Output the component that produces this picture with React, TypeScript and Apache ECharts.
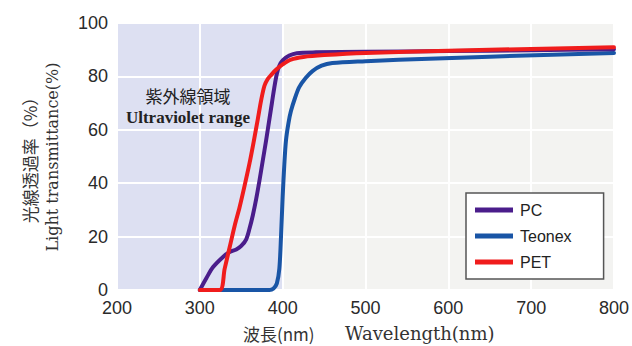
import React, { useEffect, useRef } from "react";
import * as echarts from "echarts";

const xTicks = [200, 300, 400, 500, 600, 700, 800];
const yTicks = [0, 20, 40, 60, 80, 100];
const seriesNames = ["PC", "Teonex", "PET"];
const uvRange = [200, 400];

const pcData: [number, number][] = [
  [300, 0], [308, 4.5], [316, 8.6], [328, 12.4], [336, 14.2], [344, 15.2], [350, 16.5],
  [356, 19], [360, 23], [364, 28], [368, 34], [372, 41], [376, 48.5], [380, 56],
  [384, 64], [387, 70], [390, 76], [393, 81], [396, 84], [400, 86], [408, 87.8],
  [417, 88.7], [440, 89], [500, 89.2], [600, 89.5], [700, 89.8], [800, 90.2],
];
const teonexData: [number, number][] = [
  [300, 0], [384, 0], [389, 0.6], [393, 2.5], [396, 8], [398, 20], [400, 35],
  [402, 47], [404, 56], [407, 62.5], [410, 67], [415, 72], [420, 76], [428, 79.5],
  [436, 82], [447, 84], [460, 85], [500, 85.7], [540, 86.2], [650, 87.4], [800, 88.8],
];
const petData: [number, number][] = [
  [300, 0], [324, 0], [330, 8], [336, 16], [342, 24], [348, 31], [354, 39],
  [360, 47.5], [365, 55.5], [370, 64], [374, 71], [378, 76.5], [382, 79],
  [386, 80.5], [392, 82.5], [400, 84.5], [410, 86.3], [425, 87.3], [450, 88],
  [500, 88.8], [600, 89.6], [700, 90.3], [800, 90.9],
];

const colors = { PC: "#4a1d8b", Teonex: "#1955a6", PET: "#f01c1c" };

export default function App() {
  const ref = useRef<HTMLDivElement>(null);
  useEffect(() => {
    if (!ref.current) return;
    const chart = echarts.init(ref.current, undefined, { renderer: "svg" });
    const lineSeries = (name: string, data: [number, number][], z: number) => ({
      name,
      type: "line",
      data,
      smooth: 0.3,
      showSymbol: false,
      symbol: "none",
      z,
      lineStyle: { width: 4, color: (colors as any)[name], cap: "round", join: "round" },
      itemStyle: { color: (colors as any)[name] },
    });
    chart.setOption({
      animation: false,
      backgroundColor: "#ffffff",
      grid: {
        left: 117,
        right: 17,
        top: 23,
        bottom: 56,
        show: true,
        backgroundColor: "#f3f3f1",
        borderWidth: 0,
      },
      xAxis: {
        type: "value",
        min: xTicks[0],
        max: xTicks[xTicks.length - 1],
        interval: 100,
        z: 1.5,
        axisLine: { show: false },
        axisTick: { show: false },
        axisLabel: {
          fontFamily: "Liberation Sans",
          fontSize: 18,
          color: "#2a2a2a",
          margin: 9,
        },
        splitLine: { show: true, lineStyle: { color: "#ffffff", width: 2 } },
      },
      yAxis: {
        type: "value",
        min: yTicks[0],
        max: yTicks[yTicks.length - 1],
        interval: 20,
        z: 1.5,
        axisLine: { show: false },
        axisTick: { show: false },
        axisLabel: {
          fontFamily: "Liberation Sans",
          fontSize: 18,
          color: "#2a2a2a",
          margin: 9,
        },
        splitLine: { show: true, lineStyle: { color: "#ffffff", width: 2 } },
      },
      legend: {
        data: seriesNames,
        orient: "vertical",
        left: 466,
        top: 193,
        padding: [9, 32, 9, 9],
        itemGap: 10,
        itemWidth: 38,
        itemHeight: 5,
        icon: "rect",
        backgroundColor: "#ffffff",
        borderColor: "#555555",
        borderWidth: 1.5,
        borderRadius: 0,
        textStyle: { fontFamily: "Liberation Sans", fontSize: 16, color: "#222", padding: [0, 0, 0, 2] },
      },
      series: [
        {
          name: "uv",
          type: "line",
          data: [],
          z: 1,
          silent: true,
          markArea: {
            silent: true,
            itemStyle: { color: "#dde0f2" },
            data: [[{ xAxis: uvRange[0] }, { xAxis: uvRange[1] }]],
          },
        },
        lineSeries("Teonex", teonexData, 2),
        lineSeries("PC", pcData, 3),
        lineSeries("PET", petData, 4),
      ],
      graphic: [
        {
          type: "text",
          z: 10,
          x: 29,
          y: 156,
          rotation: Math.PI / 2,
          style: {
            text: "光線透過率（%）",
            font: '17px "Noto Sans CJK JP"',
            fill: "#333",
            align: "center",
            verticalAlign: "middle",
          },
        },
        {
          type: "text",
          z: 10,
          x: 52,
          y: 157,
          rotation: Math.PI / 2,
          style: {
            text: "Light transmittance(%)",
            font: '16px "DejaVu Serif"',
            fill: "#333",
            align: "center",
            verticalAlign: "middle",
          },
        },
        {
          type: "text",
          z: 10,
          x: 188,
          y: 95,
          style: {
            text: "紫外線領域",
            font: '17px "Noto Sans CJK JP"',
            fill: "#222",
            align: "center",
            verticalAlign: "middle",
          },
        },
        {
          type: "text",
          z: 10,
          x: 188,
          y: 117,
          style: {
            text: "Ultraviolet range",
            font: 'bold 17px "Liberation Serif"',
            fill: "#222",
            align: "center",
            verticalAlign: "middle",
          },
        },
        {
          type: "text",
          z: 10,
          x: 243,
          y: 333,
          style: {
            text: "波長(nm)",
            font: '17px "Noto Sans CJK JP"',
            fill: "#333",
            align: "left",
            verticalAlign: "middle",
          },
        },
        {
          type: "text",
          z: 10,
          x: 345,
          y: 333,
          style: {
            text: "Wavelength(nm)",
            font: '18px "DejaVu Serif"',
            fill: "#333",
            align: "left",
            verticalAlign: "middle",
          },
        },
      ],
    });
    return () => chart.dispose();
  }, []);
  return <div ref={ref} style={{ width: 632, height: 346, position: "absolute", left: 0, top: 0 }} />;
}
